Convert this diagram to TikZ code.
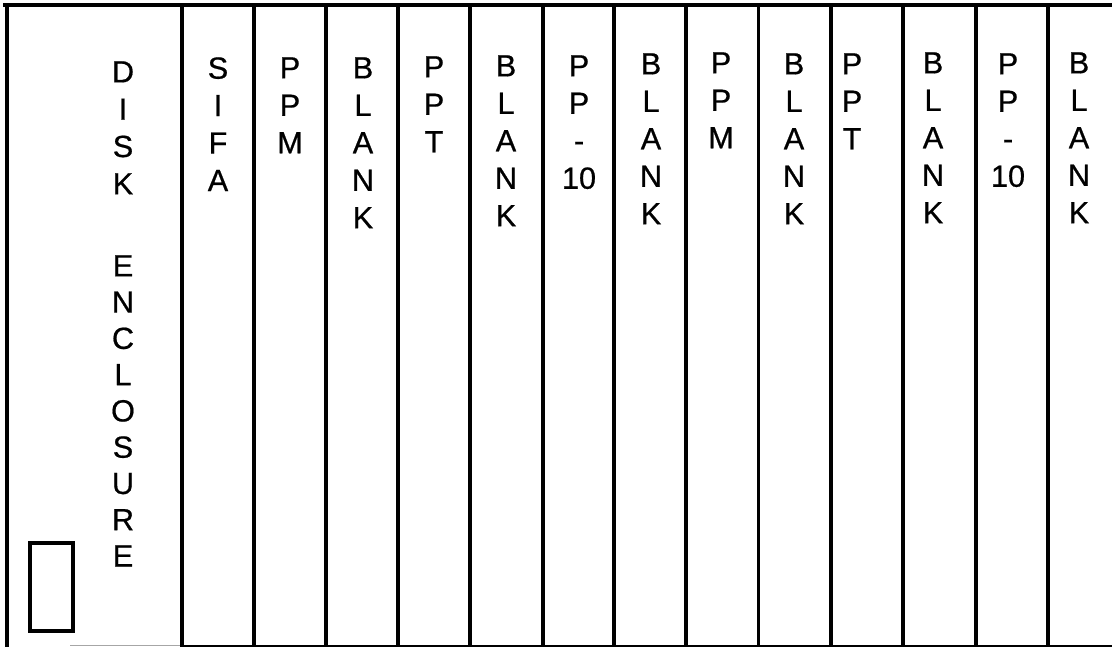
\documentclass[tikz,border=0pt]{standalone}
\usepackage{fontspec}
\setmainfont{Liberation Sans}
\newfontfamily\scanfont{Liberation Sans}[FakeBold=0.6]
\begin{document}
\begin{tikzpicture}[x=0.75pt,y=-0.75pt,
  frame/.style={line width=2.4pt,black},
  topline/.style={line width=3pt,black},
  lbl/.style={anchor=north,inner sep=0pt,align=center,
    font={\scanfont\fontsize{23}{28.1}\selectfont}},
  disklbl/.style={anchor=north,inner sep=0pt,align=center,
    font={\scanfont\fontsize{23}{28}\selectfont}},
  enclbl/.style={anchor=north,inner sep=0pt,align=center,
    font={\scanfont\fontsize{23}{27.2}\selectfont}}]
\useasboundingbox (0,0) rectangle (1112,647);
% frame
\draw[topline] (3,5) -- (1112,5);
\draw[line width=1.5pt,black] (182,645.5) -- (1112,645.5);
\draw[line width=0.8pt,black!35] (70,645.5) -- (182,645.5);
\foreach \xx in {7,182,254,326,398,470,543,614,686,758.5,831,903,976,1048}{
  \draw[frame] (\xx,5) -- (\xx,647);
}
% small window
\draw[line width=2.4pt] (30,543) rectangle (73,631);
% disk enclosure labels
\node[disklbl] (disk) at (123,61) {D\\I\\S\\K};
\node[enclbl] (encl) at (123,255) {E\\N\\C\\L\\O\\S\\U\\R\\E};
% slot labels
\node[lbl] (s1) at (218,57) {S\\I\\F\\A};
\node[lbl] (s2) at (290,57) {P\\P\\M};
\node[lbl] (s3) at (363,57) {B\\L\\A\\N\\K};
\node[lbl] (s4) at (434,56) {P\\P\\T};
\node[lbl] (s5) at (506,55) {B\\L\\A\\N\\K};
\node[lbl] (s6) at (579,55) {P\\P\\-\\10};
\node[lbl] (s7) at (651,53) {B\\L\\A\\N\\K};
\node[lbl] (s8) at (721,52) {P\\P\\M};
\node[lbl] (s9) at (794,53) {B\\L\\A\\N\\K};
\node[lbl] (s10) at (852,53) {P\\P\\T};
\node[lbl] (s11) at (933,52) {B\\L\\A\\N\\K};
\node[lbl] (s12) at (1008,53) {P\\P\\-\\10};
\node[lbl] (s13) at (1079,52) {B\\L\\A\\N\\K};
\end{tikzpicture}
\end{document}
